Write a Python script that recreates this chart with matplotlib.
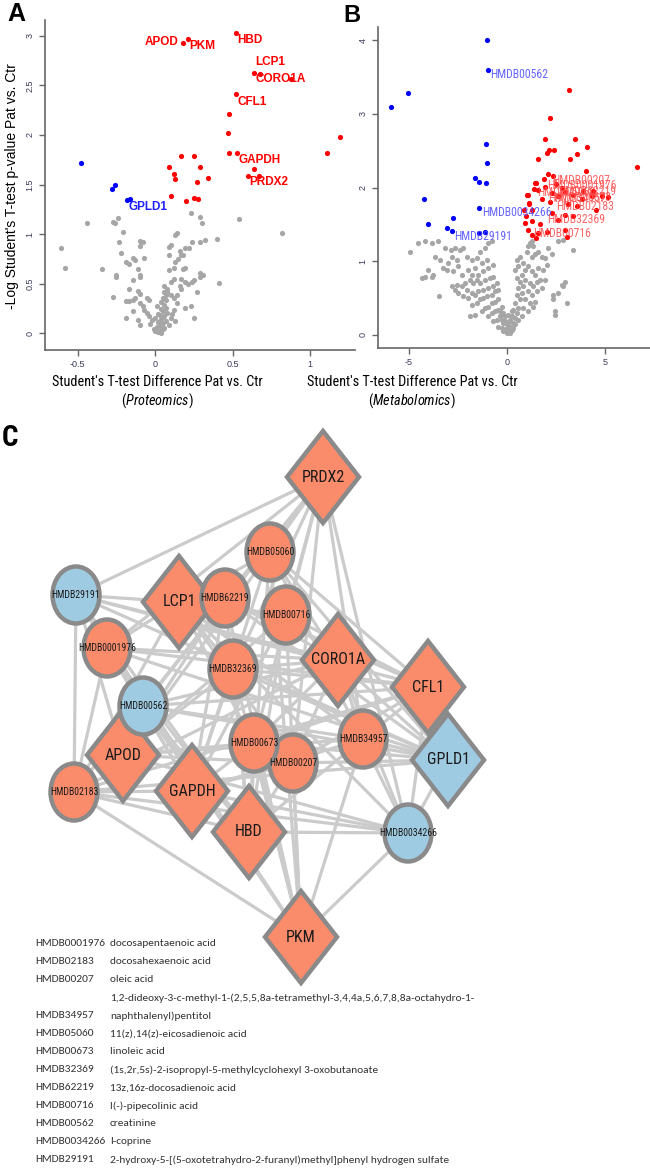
import matplotlib.pyplot as plt
from matplotlib import font_manager as fm
from matplotlib.patches import Ellipse, Polygon

available = {f.name for f in fm.fontManager.ttflist}


def pick(cands):
    for c in cands:
        if c in available:
            return c
    return None


NARROW_FACE = pick(['Liberation Sans Narrow', 'Arial Narrow', 'Roboto Condensed', 'Archivo Narrow',
                    'PT Sans Narrow', 'Fira Sans Condensed', 'IBM Plex Sans Condensed',
                    'Encode Sans Condensed', 'Open Sans Condensed'])
TABLE_FACE = pick(['Carlito', 'Liberation Sans Narrow', 'Arial Narrow', 'Roboto Condensed',
                   'PT Sans Narrow', 'Archivo Narrow', 'Fira Sans Condensed'])
# if no condensed face is installed, shrink the regular face instead
NK = 1.0 if NARROW_FACE else 0.82
TK = 1.0 if TABLE_FACE else 0.82
NARROW = [NARROW_FACE or 'Liberation Sans', 'DejaVu Sans']
TABLE = [TABLE_FACE or 'Liberation Sans', 'DejaVu Sans']

plt.rcParams['font.family'] = ['Liberation Sans', 'DejaVu Sans']
plt.rcParams['mathtext.fontset'] = 'custom'
plt.rcParams['mathtext.it'] = NARROW[0] + ':italic'
plt.rcParams['mathtext.rm'] = NARROW[0]

# ---------------- panel A : proteomics volcano ----------------
prot_up_x = [0.18, 0.21, 0.52, 0.64, 0.68, 0.88, 0.52, 0.48, 0.47, 0.48, 0.53, 0.64, 0.60, 0.67,
             1.11, 1.19, 0.17, 0.25, 0.09, 0.29, 0.12, 0.13, 0.27, 0.34, 0.10, 0.20, 0.25, 0.28]
prot_up_y = [2.93, 2.97, 3.03, 2.63, 2.62, 2.56, 2.41, 2.21, 2.02, 1.82, 1.82, 1.66, 1.59, 1.59,
             1.82, 1.98, 1.79, 1.79, 1.68, 1.68, 1.61, 1.56, 1.53, 1.57, 1.38, 1.33, 1.36, 1.35]
prot_down_x = [-0.48, -0.28, -0.26, -0.18, -0.16]
prot_down_y = [1.72, 1.45, 1.50, 1.34, 1.35]
prot_ns_x = [-0.61, -0.58, -0.44, -0.34, -0.27, -0.26, -0.24, -0.21, -0.23, -0.22,
             -0.19, -0.17, -0.25, -0.25, -0.27, -0.17, -0.19, -0.17, -0.19, -0.14,
             -0.13, -0.10, -0.08, -0.10, -0.07, -0.10, -0.10, -0.11, -0.14, -0.11,
             -0.10, -0.13, -0.14, -0.10, -0.08, -0.05, -0.04, -0.07, -0.05, -0.14,
             -0.11, -0.10,
             0.09, 0.10, 0.14, 0.13, 0.09, 0.16, 0.17, 0.19, 0.22, 0.15,
             0.13, 0.18, 0.18, 0.19, 0.12, 0.09, 0.12, 0.10, 0.17, 0.19,
             0.16, 0.17, 0.08, 0.10, 0.14, 0.12, 0.14, 0.19, 0.23, 0.25,
             0.23, 0.29, 0.30, 0.24, 0.29, 0.32, 0.25, 0.24, 0.29, 0.31,
             0.29, 0.21, 0.27, 0.40, 0.41, 0.54, 0.82,
             0.00, 0.02, 0.04, 0.06, 0.03, 0.05, 0.07, 0.01, -0.01, -0.03,
             0.04, 0.06, 0.08, 0.02, 0.05, 0.07, 0.03, 0.06, 0.04, 0.05,
             0.07, 0.06, 0.08, -0.02, 0.00, 0.02, 0.04, 0.01, 0.03, 0.05,
             0.09, 0.10, 0.11, 0.13, 0.12, 0.07, 0.06, 0.05, 0.04, -0.04]
prot_ns_y = [0.86, 0.66, 1.11, 0.65, 1.12, 1.11, 1.16, 1.02, 0.92, 0.81,
             0.72, 0.70, 0.59, 0.57, 0.36, 0.45, 0.32, 0.32, 0.15, 0.76,
             0.74, 0.93, 0.92, 0.88, 0.76, 0.59, 0.57, 0.65, 0.54, 0.43,
             0.40, 0.35, 0.33, 0.30, 0.27, 0.35, 0.33, 0.23, 0.20, 0.22,
             0.13, 0.08,
             0.87, 0.89, 1.01, 0.99, 0.79, 0.83, 0.79, 0.86, 0.86, 0.75,
             0.72, 0.79, 0.65, 0.66, 0.66, 0.64, 0.55, 0.52, 0.55, 0.52,
             0.48, 0.45, 0.42, 0.38, 0.38, 0.35, 0.30, 0.25, 0.27, 0.15,
             1.21, 1.17, 1.11, 0.92, 0.92, 0.94, 0.54, 0.52, 0.61, 0.59,
             0.57, 0.50, 0.42, 0.95, 0.51, 1.15, 1.01,
             0.02, 0.01, 0.03, 0.05, 0.07, 0.10, 0.12, 0.06, 0.04, 0.09,
             0.14, 0.17, 0.20, 0.11, 0.22, 0.25, 0.18, 0.28, 0.31, 0.35,
             0.38, 0.42, 0.45, 0.13, 0.15, 0.19, 0.24, 0.27, 0.09, 0.04,
             0.08, 0.15, 0.19, 0.12, 0.23, 0.33, 0.48, 0.16, 0.00, 0.17]

prot_labels = ['APOD', 'PKM', 'HBD', 'LCP1', 'CORO1A', 'CFL1', 'GAPDH', 'PRDX2', 'GPLD1']
prot_label_x = [0.148, 0.22, 0.53, 0.645, 0.65, 0.53, 0.54, 0.61, -0.17]
prot_label_y = [2.94, 2.90, 2.96, 2.74, 2.56, 2.33, 1.75, 1.53, 1.27]
prot_label_ha = ['right', 'left', 'left', 'left', 'left', 'left', 'left', 'left', 'left']
prot_label_up = [True, True, True, True, True, True, True, True, False]

# ---------------- panel B : metabolomics volcano ----------------
met_up_x = [3.18, 2.18, 1.92, 3.45, 2.13, 2.02, 2.41, 4.06, 3.59, 3.23,
            1.57, 6.63, 4.01, 2.11, 2.36, 1.87, 1.48, 1.39, 1.09, 1.12,
            1.26, 1.04, 1.12, 0.87, 0.97, 0.92, 1.09, 1.26, 1.48, 1.43,
            1.60, 1.94, 2.28, 2.62, 2.96, 3.38, 3.81, 4.32, 4.83, 5.14,
            2.28, 2.96, 3.38, 2.62, 4.52, 2.96, 3.04, 2.02, 1.60,
            2.50, 2.80, 3.10, 3.60, 2.20, 1.80, 3.90, 4.40, 1.30, 1.70]
met_up_y = [3.32, 2.94, 2.66, 2.66, 2.51, 2.47, 2.51, 2.55, 2.45, 2.39,
            2.39, 2.28, 2.23, 2.19, 2.16, 2.12, 2.06, 1.98, 1.90, 1.79,
            1.70, 1.90, 1.78, 1.69, 1.61, 1.52, 1.42, 1.36, 1.31, 2.06,
            1.97, 2.01, 1.92, 1.88, 1.94, 1.90, 1.85, 1.88, 1.88, 1.87,
            1.65, 1.63, 1.61, 1.56, 1.69, 1.42, 1.33, 1.39, 1.38,
            2.05, 2.00, 1.78, 1.75, 1.80, 1.85, 1.95, 1.95, 1.55, 1.50]
met_down_x = [-1.02, -0.98, -5.03, -5.92, -1.07, -1.02, -1.65, -1.44, -1.07,
              -4.23, -1.41, -2.77, -4.05, -3.04, -2.81, -1.41, -1.11]
met_down_y = [4.00, 3.60, 3.29, 3.09, 2.59, 2.33, 2.13, 2.08, 2.06,
              1.85, 1.72, 1.58, 1.51, 1.45, 1.41, 1.38, 1.40]
met_ns_pts = [
    (-4.95, 1.12), (-4.52, 1.24), (-4.18, 1.27), (-3.84, 1.24), (-3.54, 1.28), (-4.35, 0.77),
    (-4.18, 0.78), (-3.84, 0.79), (-4.01, 0.88), (-3.76, 0.81), (-3.47, 0.52), (-3.67, 1.06),
    (-3.42, 1.02), (-3.25, 0.90), (-3.08, 0.88), (-3.16, 1.18), (-2.86, 1.15), (-2.65, 1.18),
    (-2.40, 1.15), (-2.23, 1.18), (-2.82, 1.06), (-2.57, 1.02), (-2.99, 0.97), (-2.74, 0.86),
    (-2.48, 0.93), (-2.31, 0.81), (-2.06, 1.06), (-1.80, 1.02), (-1.55, 1.04), (-1.38, 1.13),
    (-1.12, 1.18), (-0.95, 1.24), (-0.78, 1.27), (-1.29, 0.97), (-1.04, 1.02), (-1.63, 0.90),
    (-1.97, 0.88), (-1.80, 0.81), (-1.46, 0.81), (-1.21, 0.86), (-0.95, 0.90), (-0.70, 0.95),
    (-2.82, 0.66), (-2.57, 0.68), (-2.65, 0.61), (-2.48, 0.57), (-2.31, 0.66), (-2.14, 0.70),
    (-2.06, 0.61), (-1.89, 0.75), (-1.72, 0.70), (-1.55, 0.75), (-1.38, 0.70), (-1.12, 0.75),
    (-0.87, 0.77), (-0.70, 0.79), (-2.23, 0.52), (-1.97, 0.50), (-1.80, 0.57), (-1.63, 0.54),
    (-1.46, 0.59), (-1.21, 0.61), (-0.95, 0.63), (-0.70, 0.66), (-0.53, 0.70), (-1.80, 0.41),
    (-1.55, 0.43), (-1.38, 0.48), (-1.21, 0.50), (-1.04, 0.52), (-0.78, 0.54), (-0.61, 0.59),
    (-0.44, 0.61), (-1.89, 0.25), (-1.63, 0.27), (-1.29, 0.32), (-1.12, 0.36), (-0.95, 0.38),
    (-0.78, 0.43), (-0.61, 0.45), (-0.44, 0.48), (-0.95, 0.25), (-0.78, 0.29), (-0.61, 0.32),
    (-0.44, 0.34), (-0.27, 0.38), (-0.70, 0.18), (-0.53, 0.20), (-0.36, 0.25), (-0.19, 0.29),
    (-0.44, 0.11), (-0.27, 0.09), (-0.10, 0.07), (-0.02, 0.02), (0.07, 0.05), (-0.19, 0.16),
    (-0.02, 0.14), (0.15, 0.11), (0.24, 0.07), (0.32, 0.16),
    (0.41, 0.23), (0.49, 0.29), (0.32, 0.34), (0.58, 0.36), (0.41, 0.43), (0.66, 0.48),
    (0.49, 0.54), (0.75, 0.57), (0.58, 0.63), (0.83, 0.66), (0.66, 0.72), (0.92, 0.75),
    (0.49, 0.77), (0.75, 0.81), (0.41, 0.88), (0.58, 0.93), (0.49, 1.02), (0.66, 1.06),
    (0.83, 0.97), (0.92, 0.88), (1.00, 1.13), (1.09, 1.20), (1.17, 1.24), (1.26, 1.27),
    (1.34, 1.20), (1.26, 1.06), (1.43, 1.09), (1.60, 1.13), (1.77, 1.06), (1.94, 1.04),
    (1.09, 0.93), (1.26, 0.86), (1.43, 0.81), (1.60, 0.90), (1.85, 0.88), (1.17, 0.70),
    (1.34, 0.66), (1.51, 0.72), (1.68, 0.75), (1.94, 0.75), (1.09, 0.59), (1.26, 0.54),
    (1.51, 0.59), (1.77, 0.63), (0.92, 0.48), (1.17, 0.43), (1.43, 0.45), (0.83, 0.36),
    (1.09, 0.32), (1.34, 0.38), (0.75, 0.25), (0.58, 0.20), (2.36, 0.54), (2.36, 0.48),
    (2.62, 0.57), (2.79, 0.68), (2.87, 0.66), (2.96, 0.72), (3.04, 0.43), (2.62, 1.27),
    (2.87, 1.29), (3.38, 1.15), (2.11, 1.18), (2.28, 1.09), (2.02, 0.95), (2.45, 0.32),
    (2.45, 0.27),
    (-0.27, 0.20), (-0.10, 0.18), (0.07, 0.16), (0.15, 0.20), (0.24, 0.25), (-0.02, 0.09),
    (-0.19, 0.05), (0.15, 0.02), (0.32, 0.09), (0.41, 0.14), (-0.36, 0.32), (0.24, 0.32),
    (0.07, 0.27), (-0.10, 0.25)]

met_labels = ['HMDB00562', 'HMDB00207', 'HMDB0001976', 'HMDB05060', 'HMDB00673', 'HMDB62219',
              'HMDB34957', 'HMDB02183', 'HMDB0034266', 'HMDB32369', 'HMDB00716', 'HMDB29191']
met_label_x = [-0.88, 2.30, 2.05, 1.55, 2.35, 2.60, 2.10, 2.50, -1.27, 2.05, 1.35, -2.70]
met_label_y = [3.53, 2.10, 2.03, 1.93, 1.87, 1.95, 1.85, 1.74, 1.66, 1.56, 1.37, 1.33]
met_label_up = [False, True, True, True, True, True, True, True, False, True, True, False]

# ---------------- panel C : network ----------------
nodes = ['PRDX2', 'LCP1', 'CORO1A', 'CFL1', 'GPLD1', 'APOD', 'GAPDH', 'HBD', 'PKM',
         'HMDB05060', 'HMDB29191', 'HMDB62219', 'HMDB00716', 'HMDB0001976', 'HMDB32369',
         'HMDB00207', 'HMDB00673', 'HMDB00562', 'HMDB34957', 'HMDB02183', 'HMDB0034266']
node_x = [323, 179, 338, 428, 448, 123, 192, 249, 301,
          270, 76, 225, 286, 107, 233, 293, 254, 143, 363, 74, 408]
node_y = [477, 602, 660, 687, 760, 755, 791, 832, 937,
          552, 595, 598, 615, 648, 669, 763, 743, 706, 739, 792, 833]
node_protein = [True] * 9 + [False] * 12
node_up = [True, True, True, True, False, True, True, True, True,
           True, False, True, True, True, True, True, True, False, True, True, False]

links = {
    'PRDX2': ['HMDB29191', 'HMDB05060', 'HMDB62219', 'HMDB00716', 'HMDB0001976', 'HMDB32369',
              'HMDB00673', 'HMDB00207', 'HMDB34957', 'HMDB02183', 'HMDB0034266', 'HMDB00562'],
    'LCP1': ['HMDB29191', 'HMDB05060', 'HMDB62219', 'HMDB00716', 'HMDB0001976', 'HMDB32369',
             'HMDB00673', 'HMDB00207', 'HMDB34957', 'HMDB02183', 'HMDB0034266'],
    'CORO1A': ['HMDB29191', 'HMDB05060', 'HMDB62219', 'HMDB00716', 'HMDB0001976', 'HMDB32369',
               'HMDB00562', 'HMDB00673', 'HMDB00207', 'HMDB34957', 'HMDB02183', 'HMDB0034266'],
    'CFL1': ['HMDB29191', 'HMDB05060', 'HMDB62219', 'HMDB00716', 'HMDB0001976', 'HMDB32369',
             'HMDB00562', 'HMDB00673', 'HMDB00207', 'HMDB34957', 'HMDB02183', 'HMDB0034266'],
    'GPLD1': ['HMDB29191', 'HMDB05060', 'HMDB62219', 'HMDB00716', 'HMDB0001976', 'HMDB32369',
              'HMDB00562', 'HMDB00673', 'HMDB00207', 'HMDB34957', 'HMDB02183', 'HMDB0034266'],
    'APOD': ['HMDB05060', 'HMDB62219', 'HMDB00716', 'HMDB32369', 'HMDB00673', 'HMDB00207',
             'HMDB34957', 'HMDB0034266', 'HMDB29191'],
    'GAPDH': ['HMDB29191', 'HMDB05060', 'HMDB62219', 'HMDB00716', 'HMDB0001976', 'HMDB32369',
              'HMDB00673', 'HMDB00207', 'HMDB34957', 'HMDB02183', 'HMDB0034266'],
    'HBD': ['HMDB29191', 'HMDB05060', 'HMDB62219', 'HMDB00716', 'HMDB0001976', 'HMDB32369',
            'HMDB00562', 'HMDB00673', 'HMDB00207', 'HMDB34957', 'HMDB02183', 'HMDB0034266'],
    'PKM': ['HMDB05060', 'HMDB62219', 'HMDB00716', 'HMDB0001976', 'HMDB32369', 'HMDB00562',
            'HMDB00673', 'HMDB00207', 'HMDB34957', 'HMDB02183', 'HMDB0034266', 'HMDB29191'],
    'HMDB29191': ['HMDB02183', 'HMDB0001976'],
    'HMDB0001976': ['HMDB02183'],
    'HMDB02183': ['HMDB0034266'],
    'HMDB00562': ['HMDB34957'],
    'HMDB05060': ['HMDB0034266'],
}

table_ids = ['HMDB0001976', 'HMDB02183', 'HMDB00207', 'HMDB34957', 'HMDB05060', 'HMDB00673',
             'HMDB32369', 'HMDB62219', 'HMDB00716', 'HMDB00562', 'HMDB0034266', 'HMDB29191']
table_names = ['docosapentaenoic acid', 'docosahexaenoic acid', 'oleic acid',
               '1,2-dideoxy-3-c-methyl-1-(2,5,5,8a-tetramethyl-3,4,4a,5,6,7,8,8a-octahydro-1-\n'
               'naphthalenyl)pentitol',
               '11(z),14(z)-eicosadienoic acid', 'linoleic acid',
               '(1s,2r,5s)-2-isopropyl-5-methylcyclohexyl 3-oxobutanoate',
               '13z,16z-docosadienoic acid', 'l(-)-pipecolinic acid', 'creatinine', 'l-coprine',
               '2-hydroxy-5-[(5-oxotetrahydro-2-furanyl)methyl]phenyl hydrogen sulfate']

RED, BLUE, GREY = '#ff0000', '#0000ff', '#a6a6a6'
ORANGE, LBLUE, EDGE = '#fa8c6c', '#9fcbe2', '#8a8a8a'

W, H = 650, 1169
fig = plt.figure(figsize=(W / 100, H / 100), dpi=100)


def box(x0, y0, x1, y1):
    return [x0 / W, 1 - y1 / H, (x1 - x0) / W, (y1 - y0) / H]


# network / text layer in pixel coordinates
axc = fig.add_axes([0, 0, 1, 1])
axc.set_xlim(0, W)
axc.set_ylim(H, 0)
axc.axis('off')

pos = {n: (x, y) for n, x, y in zip(nodes, node_x, node_y)}
for src, dsts in links.items():
    for d in dsts:
        axc.plot([pos[src][0], pos[d][0]], [pos[src][1], pos[d][1]],
                 color='#cbcbcb', lw=2.3, zorder=1, solid_capstyle='round')

for n, x, y, isp, up in zip(nodes, node_x, node_y, node_protein, node_up):
    fc = ORANGE if up else LBLUE
    if isp:
        shape = Polygon([(x, y - 46), (x + 36, y), (x, y + 46), (x - 36, y)], closed=True,
                        fc=fc, ec=EDGE, lw=3.2, zorder=2, joinstyle='miter')
        axc.add_patch(shape)
        axc.text(x, y, n, ha='center', va='center', fontsize=11.5 * NK, family=NARROW,
                 color='#1a1a1a', zorder=3)
    else:
        shape = Ellipse((x, y), 47, 57, fc=fc, ec=EDGE, lw=3.2, zorder=2)
        axc.add_patch(shape)
        axc.text(x, y, n, ha='center', va='center', fontsize=7.0 * NK, family=NARROW,
                 color='#1a1a1a', zorder=3)

# compound table
row = 0
for hid, name in zip(table_ids, table_names):
    parts = name.split('\n')
    for k, part in enumerate(parts):
        yy = 944 + 18 * row
        axc.text(110, yy, part, ha='left', va='center', fontsize=8.2 * TK, family=TABLE,
                 color='#333333')
        if k == len(parts) - 1:
            axc.text(35, yy, hid, ha='left', va='center', fontsize=8.2 * TK, family=TABLE,
                     color='#333333')
        row += 1

# panel letters and axis titles
axc.text(16, 14, 'A', ha='center', va='center', fontsize=18, fontweight='bold')
axc.text(352, 15, 'B', ha='center', va='center', fontsize=17, fontweight='bold')
axc.text(10, 438, 'C', ha='center', va='center', fontsize=21 * NK, fontweight='bold', family=NARROW)
axc.text(12, 186, "-Log Student's T-test p-value Pat vs. Ctr", rotation=90,
         ha='center', va='center', fontsize=10)
for cx, sub in [(157, 'Proteomics'), (412, 'Metabolomics')]:
    axc.text(cx, 382, "Student's T-test Difference Pat vs. Ctr", ha='center', va='center',
             fontsize=10.3 * NK, family=NARROW)
    axc.text(cx, 401, r'($\mathit{' + sub + '}$)', ha='center', va='center',
             fontsize=10.3 * NK, family=NARROW)


def style_axes(ax):
    for s in ['top', 'right']:
        ax.spines[s].set_visible(False)
    for s in ['left', 'bottom']:
        ax.spines[s].set_color('#666666')
        ax.spines[s].set_linewidth(1.2)
    ax.tick_params(colors='#666666', labelcolor='#3a3a5a', labelsize=6.5, length=4, width=1)
    for lab in ax.get_yticklabels():
        lab.set_rotation(90)
        lab.set_va('center')
    ax.patch.set_alpha(0)


# panel A
axa = fig.add_axes(box(45, 20, 355, 350))
axa.scatter(prot_ns_x, prot_ns_y, s=14, c=GREY, linewidths=0)
axa.scatter(prot_up_x, prot_up_y, s=14, c=RED, linewidths=0)
axa.scatter(prot_down_x, prot_down_y, s=14, c=BLUE, linewidths=0)
for t, x, y, ha, up in zip(prot_labels, prot_label_x, prot_label_y, prot_label_ha, prot_label_up):
    axa.text(x, y, t, ha=ha, va='center', fontsize=8.5, fontweight='bold',
             color=RED if up else '#2020ff')
axa.set_xlim(-0.71, 1.29)
axa.set_ylim(-0.17, 3.16)
axa.set_xticks([-0.5, 0, 0.5, 1])
axa.set_xticklabels(['-0.5', '0', '0.5', '1'])
axa.set_yticks([0, 0.5, 1, 1.5, 2, 2.5, 3])
axa.set_yticklabels(['0', '0.5', '1', '1.5', '2', '2.5', '3'])
style_axes(axa)

# panel B
axb = fig.add_axes(box(378, 27, 650, 348))
met_ns_x = [p[0] for p in met_ns_pts]
met_ns_y = [p[1] for p in met_ns_pts]
axb.scatter(met_ns_x, met_ns_y, s=14, c=GREY, linewidths=0)
axb.scatter(met_up_x, met_up_y, s=14, c=RED, linewidths=0)
axb.scatter(met_down_x, met_down_y, s=14, c=BLUE, linewidths=0)
for t, x, y, up in zip(met_labels, met_label_x, met_label_y, met_label_up):
    axb.text(x, y, t, ha='left', va='center', fontsize=8.5 * NK, family=NARROW,
             color='#ff4a4a' if up else '#4a4aff', alpha=0.85)
axb.set_xlim(-6.58, 7.30)
axb.set_ylim(-0.18, 4.18)
axb.set_xticks([-5, 0, 5])
axb.set_xticklabels(['-5', '0', '5'])
axb.set_yticks([0, 1, 2, 3, 4])
axb.set_yticklabels(['0', '1', '2', '3', '4'])
style_axes(axb)

fig.savefig('out.png', dpi=100)
